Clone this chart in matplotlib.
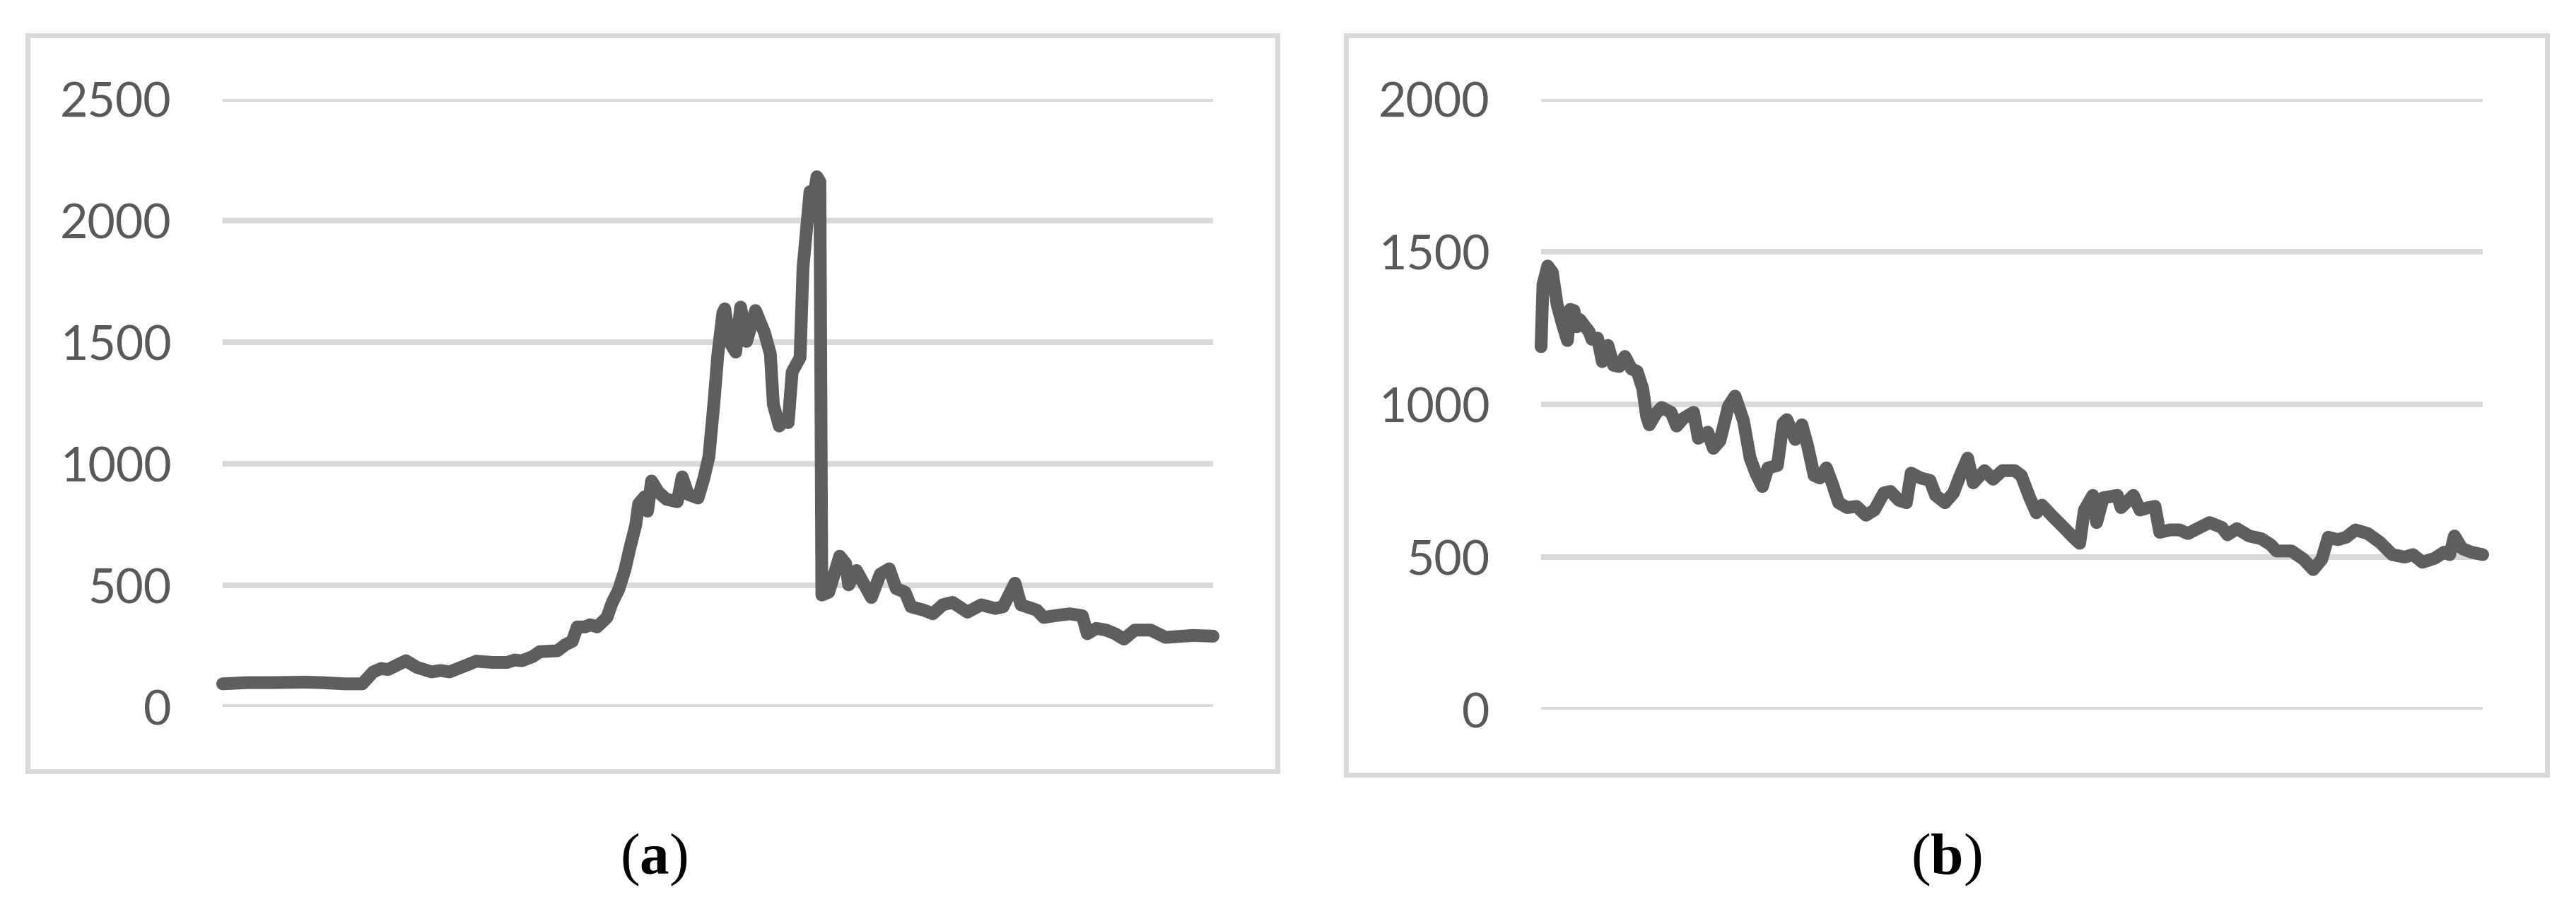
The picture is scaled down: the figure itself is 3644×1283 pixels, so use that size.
import matplotlib
matplotlib.use("Agg")
import matplotlib.pyplot as plt
from matplotlib.patches import Rectangle

# ---------------- data ----------------
# Panel (a): time index (arbitrary day units) and value
a_day = [0, 25, 50, 83, 100, 123, 141, 152, 160, 167, 175, 185, 196, 211, 220, 229,
         247, 256, 273, 287, 295, 302, 313, 320, 338, 346, 353, 358, 366, 371, 378,
         388, 393, 400, 406, 411, 417, 420, 426, 429, 433, 440, 448, 459, 464, 470,
         480, 486, 491, 496, 500, 505, 507, 512, 518, 523, 529, 538, 547, 553, 556,
         562, 567, 571, 575, 583, 586, 593, 597, 600, 603, 605, 612, 623, 629, 632,
         640, 655, 664, 673, 680, 689, 695, 708, 717, 727, 737, 752, 766, 780, 788,
         800, 806, 822, 829, 840, 855, 868, 873, 882, 892, 901, 910, 921, 937, 952,
         980, 1000]
a_val = [95, 100, 100, 102, 100, 95, 95, 144, 158, 154, 170, 190, 163, 144, 150, 144,
         173, 188, 183, 183, 193, 190, 207, 227, 231, 256, 270, 329, 329, 338, 329,
         368, 426, 484, 562, 650, 747, 835, 864, 805, 929, 883, 854, 844, 946, 874,
         859, 942, 1030, 1250, 1450, 1620, 1637, 1500, 1459, 1644, 1503, 1630, 1540, 1451, 1244,
         1155, 1180, 1169, 1377, 1437, 1807, 2119, 2100, 2180, 2160, 460, 472, 620, 590, 502,
         561, 450, 546, 568, 487, 472, 412, 398, 383, 420, 430, 390, 420, 405, 412,
         509, 420, 398, 368, 375, 383, 375, 301, 323, 316, 301, 279, 316, 316, 286,
         294, 291]

# Panel (b)
b_day = [0, 2, 7, 12, 17, 22, 28, 31, 35, 38, 41, 51, 54, 60, 65, 71, 77, 83, 89, 96,
         102, 108, 112, 115, 122, 128, 138, 144, 151, 162, 167, 177, 183, 190, 199, 206,
         215, 222, 228, 235, 241, 251, 257, 261, 270, 277, 283, 290, 296, 303, 309, 316,
         325, 335, 345, 354, 364, 371, 380, 388, 393, 403, 413, 419, 429, 438, 445, 453,
         459, 471, 480, 490, 503, 510, 519, 526, 532, 542, 555, 565, 572, 577, 586, 590,
         597, 612, 616, 629, 636, 645, 652, 657, 668, 678, 687, 697, 710, 723, 729, 739,
         752, 765, 775, 781, 797, 810, 820, 829, 836, 846, 855, 865, 878, 891, 904, 917,
         926, 936, 949, 959, 965, 970, 978, 988, 1000]
b_val = [1189, 1392, 1453, 1432, 1327, 1270, 1209, 1311, 1307, 1254, 1278, 1238, 1213, 1217, 1140, 1193, 1128, 1124, 1157, 1116,
         1108, 1051, 962, 933, 970, 990, 974, 929, 954, 974, 889, 909, 856, 881, 994, 1027,
         946, 824, 775, 731, 792, 800, 938, 950, 885, 933, 865, 767, 759, 792, 743, 678,
         662, 666, 637, 654, 710, 715, 686, 678, 775, 759, 751, 702, 678, 710, 767, 824,
         743, 783, 755, 783, 783, 767, 694, 645, 670, 637, 597, 565, 545, 654, 702, 613,
         694, 702, 662, 702, 654, 662, 666, 581, 589, 589, 577, 593, 613, 597, 573, 593,
         569, 560, 540, 520, 520, 492, 459, 492, 565, 557, 565, 589, 577, 548, 508, 500,
         508, 483, 496, 516, 508, 569, 528, 516, 508]

a_ticks = [0, 500, 1000, 1500, 2000, 2500]
b_ticks = [0, 500, 1000, 1500, 2000]
panel_labels = ["a", "b"]

# ---------------- style ----------------
W, H = 3644, 1283
plt.rcParams["mathtext.fontset"] = "custom"
plt.rcParams["mathtext.rm"] = "Liberation Serif"
plt.rcParams["mathtext.bf"] = "Liberation Serif:bold"

LINE = "#5e5e5e"
GRID = "#d9d9d9"
TXT = "#595959"

fig = plt.figure(figsize=(W / 100, H / 100), dpi=100)
fig.patch.set_facecolor("white")


def px_axes(l, r, top, bot):
    return fig.add_axes([l / W, 1 - bot / H, (r - l) / W, (bot - top) / H])


def frame(l, r, top, bot):
    fig.add_artist(Rectangle((l / W, 1 - bot / H), (r - l) / W, (bot - top) / H,
                             transform=fig.transFigure, fill=False,
                             edgecolor=GRID, linewidth=5.0))


def style(ax, ticks, ymax):
    ax.set_ylim(0, ymax)
    ax.set_xlim(0, 1000)
    ax.set_yticks(ticks)
    ax.set_xticks([])
    ax.yaxis.grid(True, color=GRID, linewidth=5.8)
    ax.set_axisbelow(True)
    for s in ax.spines.values():
        s.set_visible(False)
    ax.tick_params(axis="y", length=0, pad=52, labelsize=49, labelcolor=TXT)
    for lab in ax.get_yticklabels():
        lab.set_fontfamily("Lato")
    ax.set_facecolor("none")


# Panel (a)
frame(39, 1807, 50, 1091)
ax1 = px_axes(315, 1716, 140, 1000)
style(ax1, a_ticks, 2500)
ax1.plot(a_day, a_val, color=LINE, linewidth=13, solid_joinstyle="round",
         solid_capstyle="round", clip_on=False)

# Panel (b)
frame(1904, 3603, 50, 1096)
ax2 = px_axes(2180, 3512, 140, 1004)
style(ax2, b_ticks, 2000)
ax2.plot(b_day, b_val, color=LINE, linewidth=13, solid_joinstyle="round",
         solid_capstyle="round", clip_on=False)

# Panel captions
for cx, lab in zip([925, 2753], panel_labels):
    fig.text(cx / W, 1 - 1216 / H, r"($\mathbf{%s}$)" % lab, ha="center", va="center",
             fontsize=60, family="Liberation Serif", color="black")

fig.savefig("out.png", dpi=100, facecolor="white")
